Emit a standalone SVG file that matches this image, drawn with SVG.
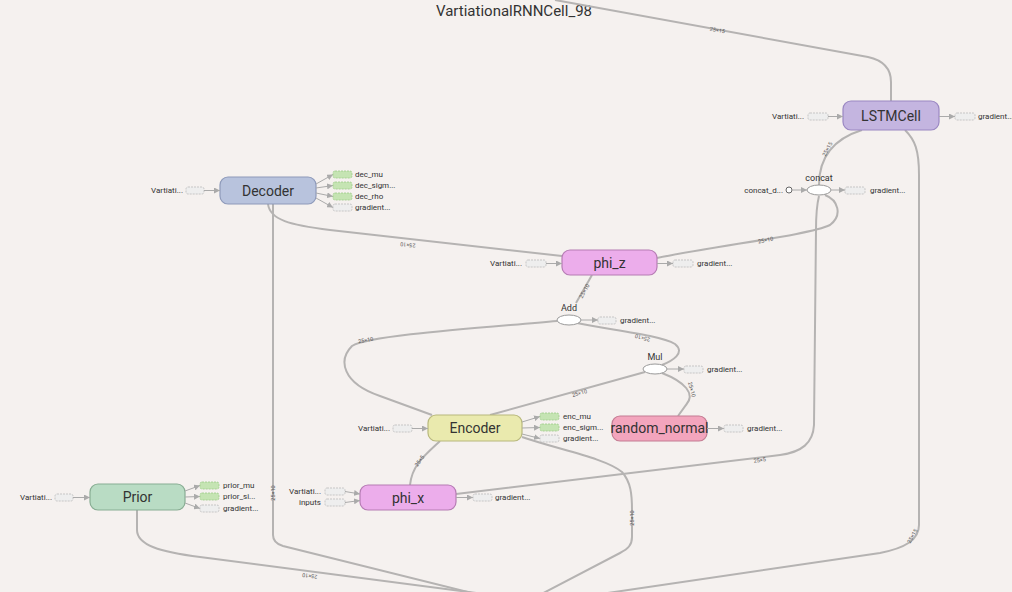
<svg xmlns="http://www.w3.org/2000/svg" width="1012" height="592" viewBox="0 0 1012 592">
<defs>
<marker id="a" viewBox="0 0 10 10" refX="10" refY="5" markerWidth="6" markerHeight="6" orient="auto"><path d="M0,0 L10,5 L0,10 z" fill="#aaa"/></marker>
<style>
.e{fill:none;stroke:#b5b3b2;stroke-width:2}
.s{fill:none;stroke:#aaa;stroke-width:1;marker-end:url(#a)}
.d{fill:#eee;stroke:#bbb;stroke-width:0.8;stroke-dasharray:2,1}
.g{fill:#c5e4b3;stroke:#9ccb88;stroke-width:0.8;stroke-dasharray:2,1}
.t{font-family:Roboto,"Liberation Sans",sans-serif;fill:#333}
.n{font-size:14px;text-anchor:middle}
.sm{font-size:8px}
.r{text-anchor:end}
.el{font-family:Roboto,"Liberation Sans",sans-serif;font-size:5.5px;fill:#555;text-anchor:middle}
.op{fill:#fff;stroke:#999;stroke-width:1}
</style>
</defs>
<rect width="1012" height="592" fill="#f5f1ef"/>
<text class="t" x="514" y="16" font-size="15" text-anchor="middle">VartiationalRNNCell_98</text>

<g id="connectors">
<path class="e" d="M555 0 L868 57 Q891 62 891 82 L891 101"/>
<path class="e" d="M819 185 C819 160 830 140 862 130"/>
<path class="e" d="M905 130 C915 140 919 150 919 175 L919 525 C919 540 905 548 880 553 L560 600"/>
<path class="e" d="M268 204 C270 220 290 225 330 230 L562 256"/>
<path class="e" d="M273 204 L273 535 C273 541 276 544 283 546 L500 600"/>
<path class="e" d="M137 510 L137 530 C137 545 160 552 200 557 L530 600"/>
<path class="e" d="M522 437 C560 450 605 458 622 472 C631 482 632 495 632 510 L632 537 C632 545 628 549 620 553 L530 600"/>
<path class="e" d="M440 441 C425 455 412 465 410 485"/>
<path class="e" d="M576 303 L592 275"/>
<path class="e" d="M577 323 C610 330 660 335 675 344 C686 353 672 361 662 365"/>
<path class="e" d="M557 321 C480 328 370 335 352 346 C338 360 342 383 380 396 L432 415"/>
<path class="e" d="M645 372 L490 415"/>
<path class="e" d="M662 373 C685 382 696 394 686 405 L678 416"/>
<path class="e" d="M456 494 L780 455 C802 452 813 443 814 425 L816 230 C816 210 818 200 819 196"/>
<path class="e" d="M825 195 C838 200 843 215 830 225 C810 235 720 245 657 258"/>
<text class="el" transform="translate(717,32) rotate(11)">25×15</text>
<text class="el" transform="translate(829,150) rotate(-62)">25×15</text>
<text class="el" transform="translate(408,243) rotate(185)">25×10</text>
<text class="el" transform="translate(766,242) rotate(-12)">25×10</text>
<text class="el" transform="translate(586,292) rotate(-60)">25×10</text>
<text class="el" transform="translate(643,336) rotate(195)">25×10</text>
<text class="el" transform="translate(366,342) rotate(-10)">25×10</text>
<text class="el" transform="translate(580,395) rotate(-16)">25×10</text>
<text class="el" transform="translate(690,390) rotate(75)">25×10</text>
<text class="el" transform="translate(421,462) rotate(-55)">25×5</text>
<text class="el" transform="translate(760,462) rotate(-8)">25×5</text>
<text class="el" transform="translate(275,493) rotate(-90)">25×10</text>
<text class="el" transform="translate(634,518) rotate(-90)">25×10</text>
<text class="el" transform="translate(310,574) rotate(187)">25×10</text>
<text class="el" transform="translate(914,537) rotate(-60)">25×15</text>
</g>

<g id="LSTMCell">
<rect x="843" y="101" width="96" height="29" rx="8" fill="#c4b5e0" stroke="#9a87c2" stroke-width="1.2"/>
<text class="t n" x="891" y="121">LSTMCell</text>
<text class="t sm r" x="804" y="119">Vartiati...</text>
<rect class="d" x="808" y="113" width="20" height="7" rx="2"/>
<line class="s" x1="828" y1="116.5" x2="843" y2="116.5"/>
<line class="s" x1="939" y1="116.5" x2="955" y2="116.5"/>
<rect class="d" x="955" y="113" width="20" height="7" rx="2"/>
<text class="t sm" x="978" y="119">gradient...</text>
</g>

<g id="concat">
<ellipse class="op" cx="819" cy="190" rx="12" ry="5"/>
<text class="t" x="819" y="181" font-size="9" text-anchor="middle">concat</text>
<text class="t sm r" x="783" y="193">concat_d...</text>
<circle cx="789" cy="190" r="3" fill="#fff" stroke="#666" stroke-width="1"/>
<line class="s" x1="792" y1="190" x2="807" y2="190"/>
<line class="s" x1="831" y1="190" x2="845" y2="190"/>
<rect class="d" x="845" y="187" width="20" height="7" rx="2"/>
<text class="t sm" x="870" y="193">gradient...</text>
</g>

<g id="Decoder">
<rect x="220" y="177" width="96" height="27" rx="8" fill="#b8c3dd" stroke="#8e9aba" stroke-width="1.2"/>
<text class="t n" x="268" y="196">Decoder</text>
<text class="t sm r" x="183" y="193">Vartiati...</text>
<rect class="d" x="186" y="187" width="18" height="7" rx="2"/>
<line class="s" x1="204" y1="190.5" x2="220" y2="190.5"/>
<line class="s" x1="316" y1="184" x2="333" y2="174.5"/>
<line class="s" x1="316" y1="188" x2="333" y2="185.5"/>
<line class="s" x1="316" y1="193" x2="333" y2="196.5"/>
<line class="s" x1="316" y1="198" x2="333" y2="207.5"/>
<rect class="g" x="333" y="171" width="19" height="7" rx="2"/>
<rect class="g" x="333" y="182" width="19" height="7" rx="2"/>
<rect class="g" x="333" y="193" width="19" height="7" rx="2"/>
<rect class="d" x="333" y="204" width="19" height="7" rx="2"/>
<text class="t sm" x="355" y="177">dec_mu</text>
<text class="t sm" x="355" y="188">dec_sigm...</text>
<text class="t sm" x="355" y="199">dec_rho</text>
<text class="t sm" x="355" y="210">gradient...</text>
</g>

<g id="phi_z">
<rect x="562" y="250" width="95" height="25" rx="8" fill="#ecadeb" stroke="#b67cb4" stroke-width="1.2"/>
<text class="t n" x="609.5" y="268">phi_z</text>
<text class="t sm r" x="522" y="266">Vartiati...</text>
<rect class="d" x="526" y="260" width="20" height="7" rx="2"/>
<line class="s" x1="546" y1="263.5" x2="562" y2="263.5"/>
<line class="s" x1="657" y1="263.5" x2="673" y2="263.5"/>
<rect class="d" x="673" y="260" width="20" height="7" rx="2"/>
<text class="t sm" x="697" y="266">gradient...</text>
</g>

<g id="Add">
<ellipse class="op" cx="569" cy="320" rx="12" ry="5"/>
<text class="t" x="569" y="311" font-size="9" text-anchor="middle">Add</text>
<line class="s" x1="581" y1="320" x2="598" y2="320"/>
<rect class="d" x="598" y="317" width="18" height="7" rx="2"/>
<text class="t sm" x="620" y="323">gradient...</text>
</g>

<g id="Mul">
<ellipse class="op" cx="655" cy="369" rx="12" ry="5"/>
<text class="t" x="655" y="360" font-size="9" text-anchor="middle">Mul</text>
<line class="s" x1="667" y1="369" x2="684" y2="369"/>
<rect class="d" x="684" y="366" width="19" height="7" rx="2"/>
<text class="t sm" x="707" y="372">gradient...</text>
</g>

<g id="Encoder">
<rect x="428" y="415" width="94" height="26" rx="8" fill="#eaeaae" stroke="#b8b87c" stroke-width="1.2"/>
<text class="t n" x="475" y="433">Encoder</text>
<text class="t sm r" x="390" y="431">Vartiati...</text>
<rect class="d" x="393" y="425" width="19" height="7" rx="2"/>
<line class="s" x1="412" y1="428.5" x2="428" y2="428.5"/>
<line class="s" x1="522" y1="422" x2="540" y2="416.5"/>
<line class="s" x1="522" y1="428" x2="540" y2="427.5"/>
<line class="s" x1="522" y1="434" x2="540" y2="438.5"/>
<rect class="g" x="540" y="413" width="19" height="7" rx="2"/>
<rect class="g" x="540" y="424" width="19" height="7" rx="2"/>
<rect class="d" x="540" y="435" width="19" height="7" rx="2"/>
<text class="t sm" x="563" y="419">enc_mu</text>
<text class="t sm" x="563" y="430">enc_sigm...</text>
<text class="t sm" x="563" y="441">gradient...</text>
</g>

<g id="random_normal">
<rect x="612" y="416" width="95" height="25" rx="8" fill="#f3a5bd" stroke="#c47d93" stroke-width="1.2"/>
<text class="t n" x="659.5" y="433" font-size="13.5">random_normal</text>
<line class="s" x1="707" y1="428.5" x2="724" y2="428.5"/>
<rect class="d" x="724" y="425" width="19" height="7" rx="2"/>
<text class="t sm" x="747" y="431">gradient...</text>
</g>

<g id="Prior">
<rect x="90" y="484" width="95" height="26" rx="8" fill="#b9dcc4" stroke="#88ad93" stroke-width="1.2"/>
<text class="t n" x="137.5" y="502">Prior</text>
<text class="t sm r" x="52" y="500">Vartiati...</text>
<rect class="d" x="55" y="494" width="18" height="7" rx="2"/>
<line class="s" x1="73" y1="497.5" x2="90" y2="497.5"/>
<line class="s" x1="185" y1="491" x2="200" y2="485.5"/>
<line class="s" x1="185" y1="497" x2="200" y2="496.5"/>
<line class="s" x1="185" y1="503" x2="200" y2="508.5"/>
<rect class="g" x="200" y="482" width="19" height="7" rx="2"/>
<rect class="g" x="200" y="493" width="19" height="7" rx="2"/>
<rect class="d" x="200" y="505" width="19" height="7" rx="2"/>
<text class="t sm" x="223" y="488">prior_mu</text>
<text class="t sm" x="223" y="499">prior_si...</text>
<text class="t sm" x="223" y="511">gradient...</text>
</g>

<g id="phi_x">
<rect x="360" y="485" width="96" height="25" rx="8" fill="#ecadeb" stroke="#b67cb4" stroke-width="1.2"/>
<text class="t n" x="408" y="503">phi_x</text>
<text class="t sm r" x="321" y="494">Vartiati...</text>
<text class="t sm r" x="321" y="505">inputs</text>
<rect class="d" x="325" y="488" width="20" height="7" rx="2"/>
<rect class="d" x="325" y="499" width="20" height="7" rx="2"/>
<line class="s" x1="345" y1="491.5" x2="360" y2="494"/>
<line class="s" x1="345" y1="502.5" x2="360" y2="500.5"/>
<line class="s" x1="456" y1="497.5" x2="473" y2="497.5"/>
<rect class="d" x="473" y="494" width="19" height="7" rx="2"/>
<text class="t sm" x="495" y="500">gradient...</text>
</g>
</svg>
